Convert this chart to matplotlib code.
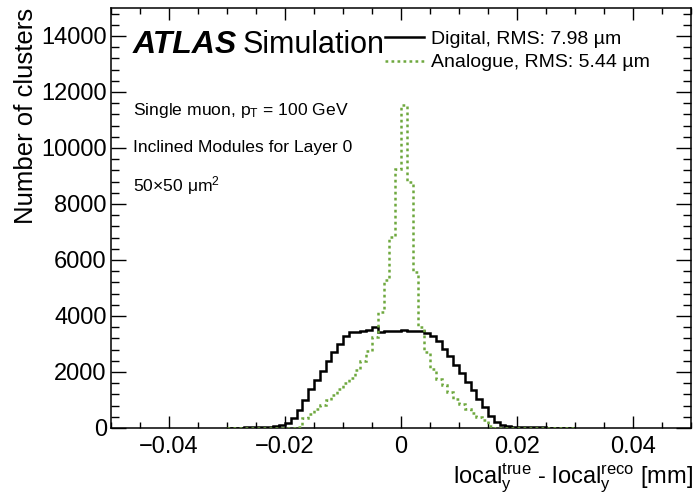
import numpy as np
import matplotlib
matplotlib.use('Agg')
import matplotlib.pyplot as plt
from matplotlib.ticker import MultipleLocator, FuncFormatter

plt.rcParams['font.family'] = ['Liberation Sans', 'DejaVu Sans']
plt.rcParams['mathtext.fontset'] = 'custom'
plt.rcParams['mathtext.rm'] = 'Liberation Sans'
plt.rcParams['mathtext.it'] = 'Liberation Sans:italic'
plt.rcParams['mathtext.bf'] = 'Liberation Sans:bold'

# 60 bins of 0.001 mm from -0.03 to 0.03
bin_lo, bin_hi, n_bins = -0.03, 0.03, 60

digital = [10, 12, 15, 18, 22, 28, 35, 45, 65, 100,
           180, 350, 650, 1000, 1380, 1720, 2050, 2400, 2720, 3000,
           3280, 3420, 3440, 3460, 3490, 3600, 3420, 3450, 3480, 3470,
           3490, 3480, 3470, 3450, 3400, 3300, 3100, 2820, 2560, 2260,
           1960, 1660, 1350, 1050, 750, 430, 220, 100, 60, 45,
           38, 32, 28, 24, 20, 17, 14, 12, 10, 8]

analogue = [0, 0, 0, 0, 0, 0, 0, 0, 0, 0,
            0, 5, 30, 350, 500, 680, 820, 1000, 1180, 1400,
            1620, 1800, 2080, 2400, 2750, 3250, 4140, 5270, 6820, 9250,
            11550, 8800, 5570, 3600, 2700, 2100, 1750, 1550, 1300, 1050,
            850, 680, 520, 380, 270, 80, 10, 0, 0, 0,
            0, 0, 0, 0, 0, 0, 0, 0, 0, 0]

labels = ['Digital, RMS: 7.98 \u00b5m', 'Analogue, RMS: 5.44 \u00b5m']
info = [r'Single muon, p$_{\rm T}$ = 100 GeV',
        'Inclined Modules for Layer 0',
        r'50$\times$50 $\mathrm{\mu}$m$^{2}$']

edges = np.linspace(bin_lo, bin_hi, n_bins + 1)
green = '#6ea83e'

fig = plt.figure(figsize=(6.99, 5.0), dpi=100)
ax = fig.add_axes([111/699, 1 - 428/500, 580/699, 420/500])

ax.stairs(digital, edges, color='black', lw=1.8, baseline=0, label=labels[0], zorder=2)
ax.stairs(analogue, edges, color=green, lw=1.8, baseline=0, label=labels[1],
          linestyle=(0, (1.1, 1.3)), zorder=3)

ax.set_xlim(-0.05, 0.05)
ax.set_ylim(0, 15000)
ax.xaxis.set_major_locator(MultipleLocator(0.02))
ax.xaxis.set_minor_locator(MultipleLocator(0.005))
ax.yaxis.set_major_locator(MultipleLocator(2000))
ax.yaxis.set_minor_locator(MultipleLocator(400))


def xfmt(v, pos):
    if abs(v) < 1e-9:
        return '0'
    return f'{v:.2f}'.replace('-', '\u2212')


ax.xaxis.set_major_formatter(FuncFormatter(xfmt))
ax.yaxis.set_major_formatter(FuncFormatter(lambda v, p: f'{v:.0f}'))

for s in ax.spines.values():
    s.set_linewidth(1.1)
ax.tick_params(which='both', direction='in', top=True, right=True, width=1.0, labelsize=17)
ax.tick_params(axis='y', which='major', length=11, pad=3)
ax.tick_params(axis='y', which='minor', length=6)
ax.tick_params(axis='x', which='major', length=8.5, pad=6)
ax.tick_params(axis='x', which='minor', length=4.5)

ax.set_ylabel('Number of clusters', fontsize=18.5, loc='top')
ax.yaxis.set_label_coords(-0.126, 1.0)
ax.set_xlabel(r'local$_{\rm y}^{\rm true}$ - local$_{\rm y}^{\rm reco}$ [mm]', fontsize=17, loc='right')
ax.xaxis.set_label_coords(1.003, -0.08)

ax.text(0.038, 0.893, 'ATLAS', transform=ax.transAxes, fontsize=23,
        fontweight='bold', fontstyle='italic', va='baseline')
ax.text(0.2276, 0.893, 'Simulation', transform=ax.transAxes, fontsize=22, va='baseline')
for txt, yy in zip(info, [0.745, 0.658, 0.5626]):
    ax.text(0.038, yy, txt, transform=ax.transAxes, fontsize=12.6, va='baseline')

ax.legend(loc='upper left', bbox_to_anchor=(0.472, 0.947), frameon=False, fontsize=14,
          handlelength=2.0, handletextpad=0.4, labelspacing=0.3, borderpad=0,
          borderaxespad=0)

fig.savefig('out.png', dpi=100)
